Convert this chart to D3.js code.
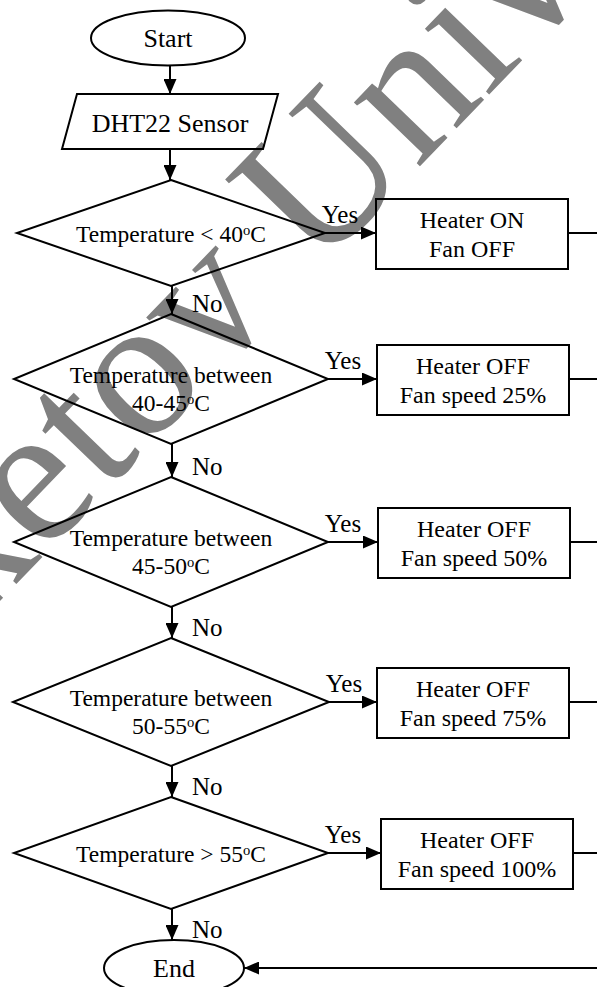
<!DOCTYPE html>
<html>
<head>
<meta charset="utf-8">
<script src="https://cdn.jsdelivr.net/npm/d3@7"></script>
<style>
  html, body { margin: 0; padding: 0; background: #fff; }
  svg { display: block; }
  text { font-family: "Liberation Serif", "Times New Roman", serif; fill: #000; }
</style>
</head>
<body>
<svg id="chart" width="597" height="987"></svg>
<script>
// flowchart content
const terminals = ["Start", "End"];
const inputLabel = "DHT22 Sensor";
const conditions = [
  ["Temperature < 40|C"],
  ["Temperature between", "40-45|C"],
  ["Temperature between", "45-50|C"],
  ["Temperature between", "50-55|C"],
  ["Temperature > 55|C"]
];
const actions = [
  ["Heater ON", "Fan OFF"],
  ["Heater OFF", "Fan speed 25%"],
  ["Heater OFF", "Fan speed 50%"],
  ["Heater OFF", "Fan speed 75%"],
  ["Heater OFF", "Fan speed 100%"]
];
const yesLabel = "Yes";
const noLabel = "No";
const watermark = "ketov University";

// layout
const W = 597, H = 987;
const cx = 171;
const rowY = [233, 379, 542, 702, 853];
const rowHalfH = [53, 65, 65, 64, 56];
const rowHalfW = [154, 157, 157, 158, 157];
const boxX = [376, 377, 378, 377, 381], boxW = 192, boxH = 70;
const endY = 968;

const svg = d3.select("#chart");

svg.append("defs").append("marker")
    .attr("id", "arrow")
    .attr("viewBox", "0 0 15 13")
    .attr("refX", 15).attr("refY", 6.5)
    .attr("markerWidth", 7.5).attr("markerHeight", 6.5)
    .attr("markerUnits", "strokeWidth")
    .attr("orient", "auto")
  .append("path")
    .attr("d", "M0,0 L15,6.5 L0,13 Z")
    .attr("fill", "#000");

// watermark sits under the drawing
svg.append("text")
    .attr("transform", "translate(-27,629) rotate(-46)")
    .attr("font-size", 200)
    .style("fill", "#808080")
    .text(watermark);

const g = svg.append("g")
    .attr("fill", "none")
    .attr("stroke", "#000")
    .attr("stroke-width", 2);

function arrow(x1, y1, x2, y2) {
  g.append("line")
    .attr("x1", x1).attr("y1", y1).attr("x2", x2).attr("y2", y2)
    .attr("marker-end", "url(#arrow)");
}

// writes "40|C" as 40 + superscript o + C
function label(sel, str) {
  const parts = str.split("|");
  sel.append("tspan").text(parts[0]);
  if (parts.length > 1) {
    sel.append("tspan").attr("font-size", "0.62em").attr("dy", "-0.45em").text("o");
    sel.append("tspan").attr("dy", "0.28em").text(parts[1]);
  }
}

// start
g.append("ellipse").attr("cx", 168).attr("cy", 38).attr("rx", 77).attr("ry", 27.5);
svg.append("text").attr("x", 168).attr("y", 47).attr("text-anchor", "middle")
    .attr("font-size", 26).text(terminals[0]);
arrow(170, 65.5, 170, 94);

// input parallelogram
g.append("path").attr("d", d3.line()([[77, 94], [278, 94], [263, 149], [62, 149]]) + "Z");
svg.append("text").attr("x", 170).attr("y", 132).attr("text-anchor", "middle")
    .attr("font-size", 26).text(inputLabel);
arrow(170, 149, 170, rowY[0] - rowHalfH[0]);

// decisions and actions
conditions.forEach((lines, i) => {
  const y = rowY[i], hh = rowHalfH[i], hw = rowHalfW[i];
  g.append("path").attr("d", d3.line()([
    [cx, y - hh], [cx + hw, y], [cx, y + hh], [cx - hw, y]
  ]) + "Z");

  const t = svg.append("text").attr("text-anchor", "middle").attr("font-size", 23.5);
  const y0 = lines.length === 1 ? y + 9 : y + 4;
  lines.forEach((s, k) => {
    const tl = t.append("tspan").attr("x", cx).attr("y", y0 + k * 28);
    label(tl, s);
  });

  // yes branch
  arrow(cx + hw, y, boxX[i], y);
  svg.append("text").attr("x", cx + hw + 15).attr("y", y - 10)
      .attr("text-anchor", "middle").attr("font-size", 25).text(yesLabel);

  g.append("rect").attr("x", boxX[i]).attr("y", y - boxH / 2 + 1)
      .attr("width", boxW).attr("height", boxH);
  const bt = svg.append("text").attr("text-anchor", "middle").attr("font-size", 24);
  actions[i].forEach((s, k) => {
    bt.append("tspan").attr("x", boxX[i] + boxW / 2).attr("y", y - 5 + k * 29).text(s);
  });
  g.append("line").attr("x1", boxX[i] + boxW).attr("y1", y).attr("x2", W).attr("y2", y);

  // no branch
  const nextTop = i < conditions.length - 1 ? rowY[i + 1] - rowHalfH[i + 1] : endY - 28;
  arrow(cx + 1, y + hh, cx + 1, nextTop);
  svg.append("text").attr("x", cx + 21).attr("y", nextTop - 2)
      .attr("font-size", 25).text(noLabel);
});

// end
g.append("ellipse").attr("cx", 174).attr("cy", endY).attr("rx", 70).attr("ry", 28);
svg.append("text").attr("x", 174).attr("y", endY + 9).attr("text-anchor", "middle")
    .attr("font-size", 26).text(terminals[1]);
arrow(W, endY, 244, endY);
</script>
</body>
</html>
